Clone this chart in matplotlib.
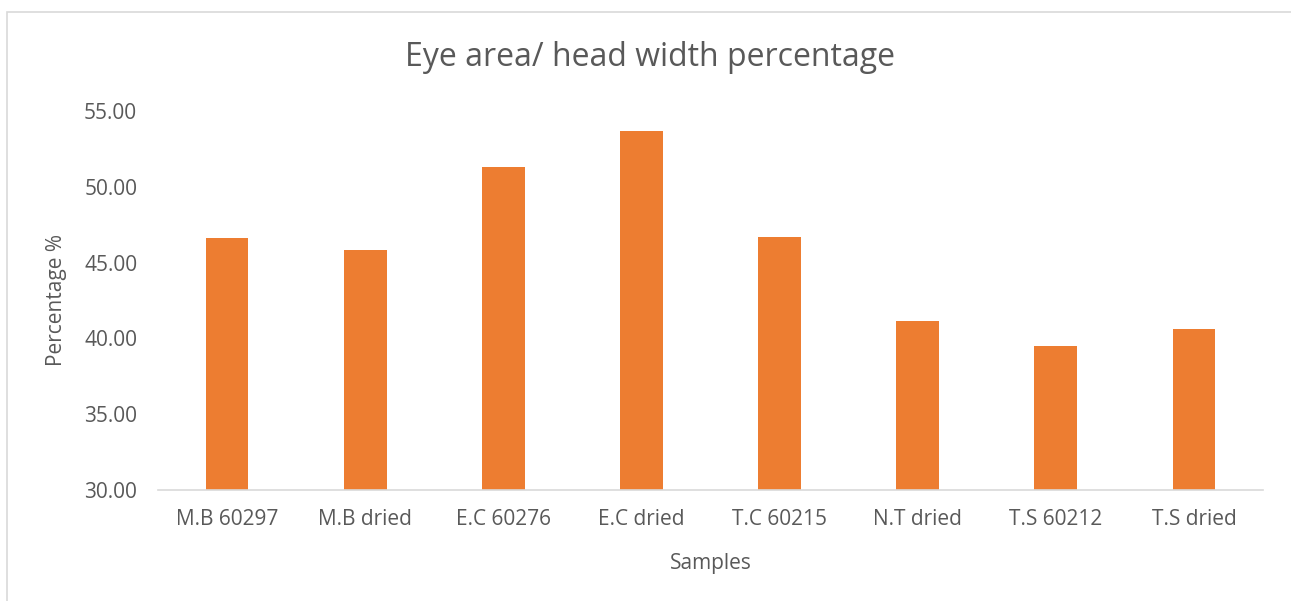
import matplotlib.pyplot as plt
from matplotlib.patches import Rectangle

samples = ["M.B 60297", "M.B dried", "E.C 60276", "E.C dried",
           "T.C 60215", "N.T dried", "T.S 60212", "T.S dried"]
percentages = [46.62, 45.83, 51.31, 53.68, 46.69, 41.15, 39.50, 40.62]
yticks = [30, 35, 40, 45, 50, 55]

plt.rcParams['font.family'] = ['Open Sans', 'DejaVu Sans']
text_col = '#595959'

fig = plt.figure(figsize=(12.91, 6.01), dpi=100)
fig.patches.append(Rectangle((7 / 1291, -0.1), 1.1, 1.1 - 12 / 601, transform=fig.transFigure,
                             fill=False, edgecolor='#d9d9d9', linewidth=1.2))
ax = fig.add_axes([158 / 1291, 1 - 490 / 601, 1105 / 1291, 379 / 601])

x = range(len(samples))
ax.bar(x, percentages, width=0.31, color='#ed7d31')
ax.set_xlim(-0.5, len(samples) - 0.5)
ax.set_ylim(30, 55)
ax.set_yticks(yticks)
ax.set_yticklabels([f"{v:.2f}" for v in yticks])
ax.set_xticks(list(x))
ax.set_xticklabels(samples)

for s in ['top', 'right', 'left']:
    ax.spines[s].set_visible(False)
ax.spines['bottom'].set_color('#d9d9d9')
ax.spines['bottom'].set_linewidth(1.2)
ax.tick_params(axis='both', length=0, labelsize=15, colors=text_col)
ax.tick_params(axis='x', pad=14)
ax.tick_params(axis='y', pad=15)

ax.set_xlabel('Samples', fontsize=15, color=text_col, labelpad=16)
ax.set_ylabel('Percentage %', fontsize=15, color=text_col, labelpad=12)
fig.text(650 / 1291, 1 - 58 / 601, 'Eye area/ head width percentage',
         ha='center', va='center', fontsize=23, color=text_col)

fig.savefig('out.png', dpi=100)
